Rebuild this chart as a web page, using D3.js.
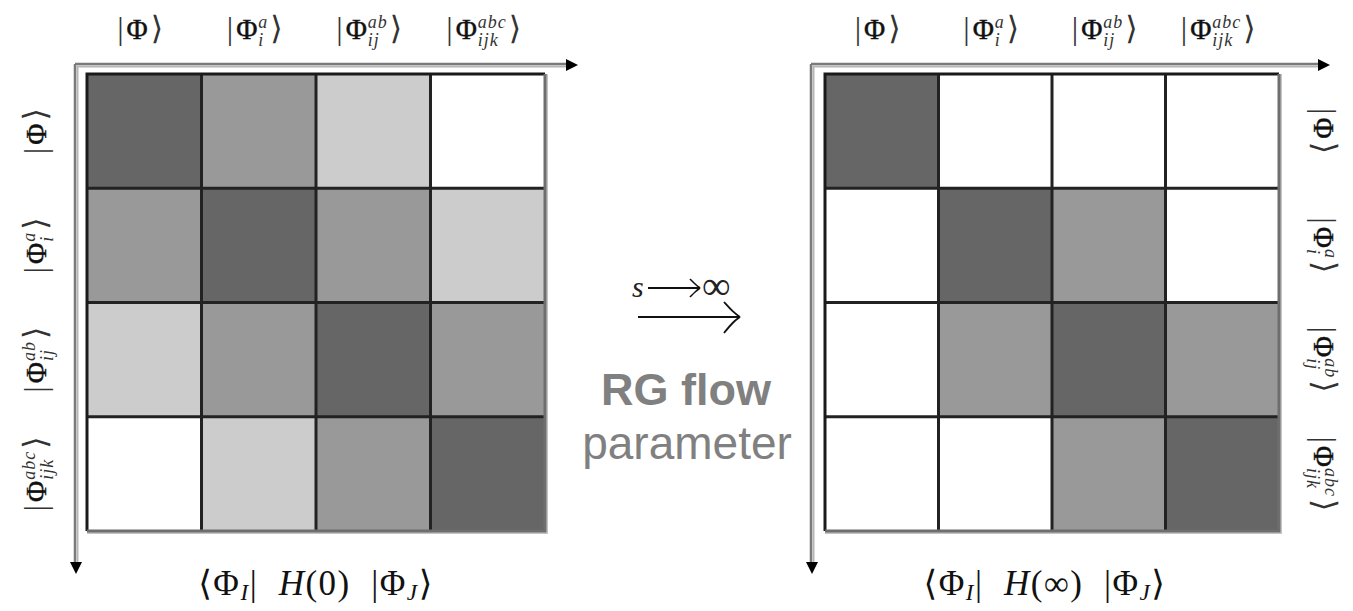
<!DOCTYPE html>
<html>
<head>
<meta charset="utf-8">
<script src="https://cdn.jsdelivr.net/npm/d3@7"></script>
<style>
  html, body { margin: 0; padding: 0; background: #fff; }
  svg { display: block; }
</style>
</head>
<body>
<svg id="chart" width="1353" height="611"></svg>
<script>
// Slater determinant classes labelling rows and columns
const basisSup = ["", "a", "ab", "abc"];
const basisSub = ["", "i", "ij", "ijk"];
const basisIdx = [0, 1, 2, 3];

// Coupling strength level of each Hamiltonian block (0 = none, 3 = strongest)
const levelsH0 = [
  [3, 2, 1, 0],
  [2, 3, 2, 1],
  [1, 2, 3, 2],
  [0, 1, 2, 3]
];
const levelsHinf = [
  [3, 0, 0, 0],
  [0, 3, 2, 0],
  [0, 2, 3, 2],
  [0, 0, 2, 3]
];
const shadeLevels = [0, 1, 2, 3];
const shadeColors = ["#ffffff", "#cccccc", "#999999", "#666666"];

const svg = d3.select("#chart");
const shade = d3.scaleOrdinal().domain(shadeLevels).range(shadeColors);
const SERIF = "'Liberation Serif', 'DejaVu Serif', serif";

// Draws |Φ^{sup}_{sub}⟩ centred on the origin of g
function ket(g, sup, sub, size) {
  const t = g.append("g");
  const bar = t.append("text").attr("font-family", SERIF).attr("font-size", size * 1.1)
    .attr("fill", "#333").text("|");
  let x = bar.node().getComputedTextLength() + 3;
  const phi = t.append("text").attr("x", x).attr("font-family", SERIF).attr("font-size", size)
    .attr("fill", "#111").attr("stroke", "#111").attr("stroke-width", 0.4).text("Φ");
  x += phi.node().getComputedTextLength() + 1;
  let w = 0;
  if (sup) {
    const s = t.append("text").attr("x", x).attr("y", -size * 0.36)
      .attr("font-family", SERIF).attr("font-style", "italic").attr("letter-spacing", 1)
      .attr("font-size", size * 0.62).attr("fill", "#333").text(sup);
    w = Math.max(w, s.node().getComputedTextLength());
  }
  if (sub) {
    const s = t.append("text").attr("x", x).attr("y", size * 0.24)
      .attr("font-family", SERIF).attr("font-style", "italic").attr("letter-spacing", 1)
      .attr("font-size", size * 0.62).attr("fill", "#333").text(sub);
    w = Math.max(w, s.node().getComputedTextLength());
  }
  x += w + 2;
  const close = t.append("text").attr("x", x).attr("font-family", SERIF)
    .attr("font-size", size * 1.1).attr("fill", "#333").text("⟩");
  x += close.node().getComputedTextLength();
  t.attr("transform", `translate(${-x / 2},${size * 0.33})`);
}

// Draws ⟨Φ_I| H(arg) |Φ_J⟩ centred at cx
function matrixElement(cx, y, arg, size) {
  const t = svg.append("text").attr("y", y).attr("font-family", SERIF)
    .attr("font-size", size).attr("fill", "#111").attr("letter-spacing", 1.5)
    .attr("xml:space", "preserve");
  const drop = size * 0.14;
  t.append("tspan").text("⟨Φ");
  t.append("tspan").attr("dy", drop).attr("font-size", size * 0.66)
    .attr("font-style", "italic").text("I");
  t.append("tspan").attr("dy", -drop).text("|  ");
  t.append("tspan").attr("font-style", "italic").text("H");
  t.append("tspan").text("(" + arg + ")  |Φ");
  t.append("tspan").attr("dy", drop).attr("font-size", size * 0.66)
    .attr("font-style", "italic").text("J");
  t.append("tspan").attr("dy", -drop).text("⟩");
  const w = t.node().getComputedTextLength();
  t.attr("x", cx - w / 2);
}

function arrowHead(x, y, dir) {
  const s = 6;
  const pts = dir === "right"
    ? [[x, y - s], [x + 2 * s, y], [x, y + s]]
    : [[x - s, y], [x, y + 2 * s], [x + s, y]];
  svg.append("path").attr("d", d3.line()(pts) + "Z").attr("fill", "#000");
}

function panel(opts) {
  const { levels, x0, x1, y0, y1, axisX, axisY, arrowX, arrowY, rowLabelX, rowRotate } = opts;
  const xs = d3.scaleBand().domain(basisIdx).range([x0, x1]);
  const ys = d3.scaleBand().domain(basisIdx).range([y0, y1]);
  const g = svg.append("g");

  // gray axes with arrow heads
  g.append("line").attr("x1", axisX).attr("x2", arrowX).attr("y1", axisY).attr("y2", axisY)
    .attr("stroke", "#7a7a7a").attr("stroke-width", 2.5);
  g.append("line").attr("x1", axisX + 2).attr("x2", arrowX).attr("y1", axisY + 2.5).attr("y2", axisY + 2.5)
    .attr("stroke", "#b5b5b5").attr("stroke-width", 2);
  g.append("line").attr("x1", axisX).attr("x2", axisX).attr("y1", axisY).attr("y2", arrowY)
    .attr("stroke", "#7a7a7a").attr("stroke-width", 2.5);
  g.append("line").attr("x1", axisX + 2.5).attr("x2", axisX + 2.5).attr("y1", axisY + 2).attr("y2", arrowY)
    .attr("stroke", "#b5b5b5").attr("stroke-width", 2);
  arrowHead(arrowX, axisY + 1, "right");
  arrowHead(axisX + 1, arrowY, "down");

  // matrix blocks
  const cells = [];
  levels.forEach((row, r) => row.forEach((v, c) => cells.push({ r, c, v })));
  g.selectAll("rect.cell").data(cells).join("rect").attr("class", "cell")
    .attr("x", d => xs(d.c)).attr("y", d => ys(d.r))
    .attr("width", xs.bandwidth()).attr("height", ys.bandwidth())
    .attr("fill", d => shade(d.v));

  // outer shadow on the right and bottom edges
  g.append("path").attr("d", `M${x1 + 2},${y0} V${y1 + 2} H${x0}`)
    .attr("fill", "none").attr("stroke", "#c4c4c4").attr("stroke-width", 2);
  // grid lines
  basisIdx.slice(1).forEach(i => {
    g.append("line").attr("x1", xs(i)).attr("x2", xs(i)).attr("y1", y0).attr("y2", y1)
      .attr("stroke", "#222").attr("stroke-width", 3);
    g.append("line").attr("x1", x0).attr("x2", x1).attr("y1", ys(i)).attr("y2", ys(i))
      .attr("stroke", "#222").attr("stroke-width", 3);
  });
  g.append("path").attr("d", `M${x0},${y1} V${y0} H${x1}`)
    .attr("fill", "none").attr("stroke", "#1a1a1a").attr("stroke-width", 3);
  g.append("path").attr("d", `M${x1},${y0} V${y1} H${x0}`)
    .attr("fill", "none").attr("stroke", "#6e6e6e").attr("stroke-width", 3);

  // column labels
  basisIdx.forEach(i => {
    const lg = svg.append("g").attr("transform", `translate(${xs(i) + xs.bandwidth() / 2 - 4},29)`);
    ket(lg, basisSup[i], basisSub[i], 29);
  });
  // row labels
  basisIdx.forEach(i => {
    const lg = svg.append("g")
      .attr("transform", `translate(${rowLabelX},${ys(i) + ys.bandwidth() / 2}) rotate(${rowRotate})`);
    ket(lg, basisSup[i], basisSub[i], 29);
  });
}

panel({ levels: levelsH0, x0: 87, x1: 545, y0: 74, y1: 531,
        axisX: 75, axisY: 64, arrowX: 566, arrowY: 562, rowLabelX: 36, rowRotate: -90 });
panel({ levels: levelsHinf, x0: 825, x1: 1279, y0: 74, y1: 531,
        axisX: 811, axisY: 64, arrowX: 1318, arrowY: 562, rowLabelX: 1324, rowRotate: 90 });

matrixElement(316, 595, "0", 35);
matrixElement(1045, 595, "∞", 35);

// RG flow arrow in the middle
const mid = svg.append("g");
mid.append("text").attr("x", 632).attr("y", 297)
  .attr("font-family", SERIF).attr("font-style", "italic").attr("font-size", 30)
  .attr("fill", "#222").text("s");
mid.append("line").attr("x1", 648).attr("x2", 699).attr("y1", 288).attr("y2", 288)
  .attr("stroke", "#111").attr("stroke-width", 1.8);
mid.append("path").attr("d", d3.line().curve(d3.curveBasis)([[690, 279], [696, 285], [700, 288]]))
  .attr("fill", "none").attr("stroke", "#111").attr("stroke-width", 1.6);
mid.append("path").attr("d", d3.line().curve(d3.curveBasis)([[690, 297], [696, 291], [700, 288]]))
  .attr("fill", "none").attr("stroke", "#111").attr("stroke-width", 1.6);
mid.append("text").attr("x", 702).attr("y", 299)
  .attr("font-family", SERIF).attr("font-size", 40).attr("fill", "#222").text("∞");

mid.append("line").attr("x1", 638).attr("x2", 739).attr("y1", 317).attr("y2", 317)
  .attr("stroke", "#111").attr("stroke-width", 2);
mid.append("path").attr("d", d3.line().curve(d3.curveBasis)([[724, 302], [733, 312], [740, 317]]))
  .attr("fill", "none").attr("stroke", "#111").attr("stroke-width", 1.8);
mid.append("path").attr("d", d3.line().curve(d3.curveBasis)([[724, 333], [733, 322], [740, 317]]))
  .attr("fill", "none").attr("stroke", "#111").attr("stroke-width", 1.8);

mid.append("text").attr("x", 686).attr("y", 405).attr("text-anchor", "middle")
  .attr("font-family", "'Liberation Sans', Arial, sans-serif").attr("font-weight", "bold")
  .attr("font-size", 45).attr("fill", "#808080").text("RG flow");
mid.append("text").attr("x", 687).attr("y", 459).attr("text-anchor", "middle")
  .attr("font-family", "'Liberation Sans', Arial, sans-serif")
  .attr("font-size", 46).attr("fill", "#808080").text("parameter");
</script>
</body>
</html>
